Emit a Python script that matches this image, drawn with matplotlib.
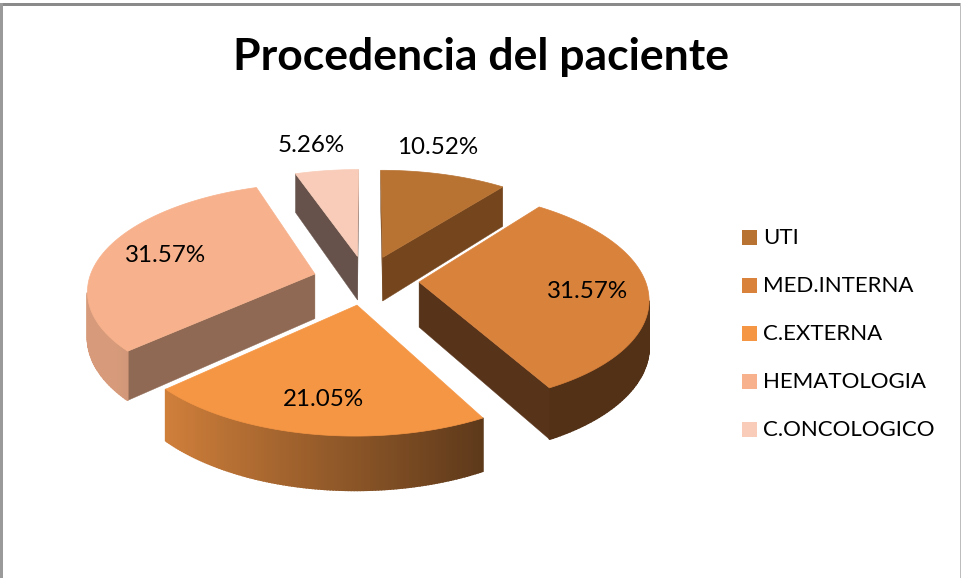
import numpy as np
import matplotlib
matplotlib.use('Agg')
import matplotlib.pyplot as plt
from matplotlib.patches import Polygon, Rectangle

title = 'Procedencia del paciente'
categories = ['UTI', 'MED.INTERNA', 'C.EXTERNA', 'HEMATOLOGIA', 'C.ONCOLOGICO']
values = [10.52, 31.57, 21.05, 31.57, 5.26]
labels = ['10.52%', '31.57%', '21.05%', '31.57%', '5.26%']

colors = ['#B87333', '#D9823C', '#F59645', '#F7B28D', '#F8CCB8']
radial_colors = ['#75461E', '#57331A', '#8F6953', '#8F6953', '#66524A']

# fake 3d pie, projected by hand in pixel space
CX, CY = 366, 280
AX, AY = 226, 105
PERSP = 0.139
EXPLODE = 0.235
DEPTH = 45


def project(x, y):
    k = 1 / (1 + PERSP * y)
    return CX + x * AX * k, CY - y * AY * k, k


def shade(col, f):
    rgb = np.array(matplotlib.colors.to_rgb(col))
    return tuple(rgb * f)


def wall_factor(th):
    return np.clip(0.565 - 0.388 * np.sin(th), 0.38, 0.87)


fig = plt.figure(figsize=(9.61, 5.78), dpi=100)
ax = fig.add_axes([0, 0, 1, 1])
ax.set_xlim(0, 961)
ax.set_ylim(578, 0)
ax.axis('off')

# chart border
ax.add_patch(Rectangle((0, 3), 961, 2.5, color='#8A8A8A', lw=0))
ax.add_patch(Rectangle((0, 3), 2.5, 575, color='#9A9A9A', lw=0))
ax.add_patch(Rectangle((959.5, 3), 1.5, 575, color='#BDBDBD', lw=0))

total = sum(values)
edges = np.concatenate([[0], np.cumsum(values)]) / total * 2 * np.pi
order = [4, 0, 3, 1, 2]  # back to front

for i in order:
    a0, a1 = edges[i], edges[i + 1]
    mid = (a0 + a1) / 2
    ox, oy = EXPLODE * np.sin(mid), EXPLODE * np.cos(mid)
    th = np.linspace(a0, a1, 120)
    wx = np.concatenate([[ox], ox + np.sin(th), [ox]])
    wy = np.concatenate([[oy], oy + np.cos(th), [oy]])
    px, py, k = project(wx, wy)
    ths = np.concatenate([[a0], th, [a1]])
    for j in range(len(px) - 1):
        # going clockwise round the top, only leftward edges show their wall
        if px[j + 1] - px[j] >= 0:
            continue
        if j == 0 or j == len(px) - 2:
            c = radial_colors[i]
            lw = 0.3
        else:
            c = shade(colors[i], wall_factor(ths[j]))
            lw = 1.2
        quad = [(px[j], py[j]), (px[j + 1], py[j + 1]),
                (px[j + 1], py[j + 1] + DEPTH * k[j + 1]),
                (px[j], py[j] + DEPTH * k[j])]
        ax.add_patch(Polygon(quad, closed=True, facecolor=c, edgecolor=c, lw=lw))
    ax.add_patch(Polygon(np.column_stack([px, py]), closed=True,
                         facecolor=colors[i], edgecolor=colors[i], lw=0.5))

# data labels
label_x = [438, 588, 323, 166, 311]
label_y = [147, 292, 400, 256, 146]
for t, x, y in zip(labels, label_x, label_y):
    ax.text(x, y, t, ha='center', va='center', fontsize=17.4, family='Lato', color='#000000')

ax.text(481, 57, title, ha='center', va='center', fontsize=32,
        family='Lato', fontweight='bold', color='#000000')

# legend
legend_y = [237, 285, 333, 381, 429]
for c, name, y in zip(colors, categories, legend_y):
    ax.add_patch(Rectangle((742, y - 7.5), 15, 15, facecolor=c, edgecolor='none'))
    ax.text(763, y + 0.5, name, ha='left', va='center', fontsize=16, family='Lato', color='#000000')

fig.savefig('out.png', dpi=100)
